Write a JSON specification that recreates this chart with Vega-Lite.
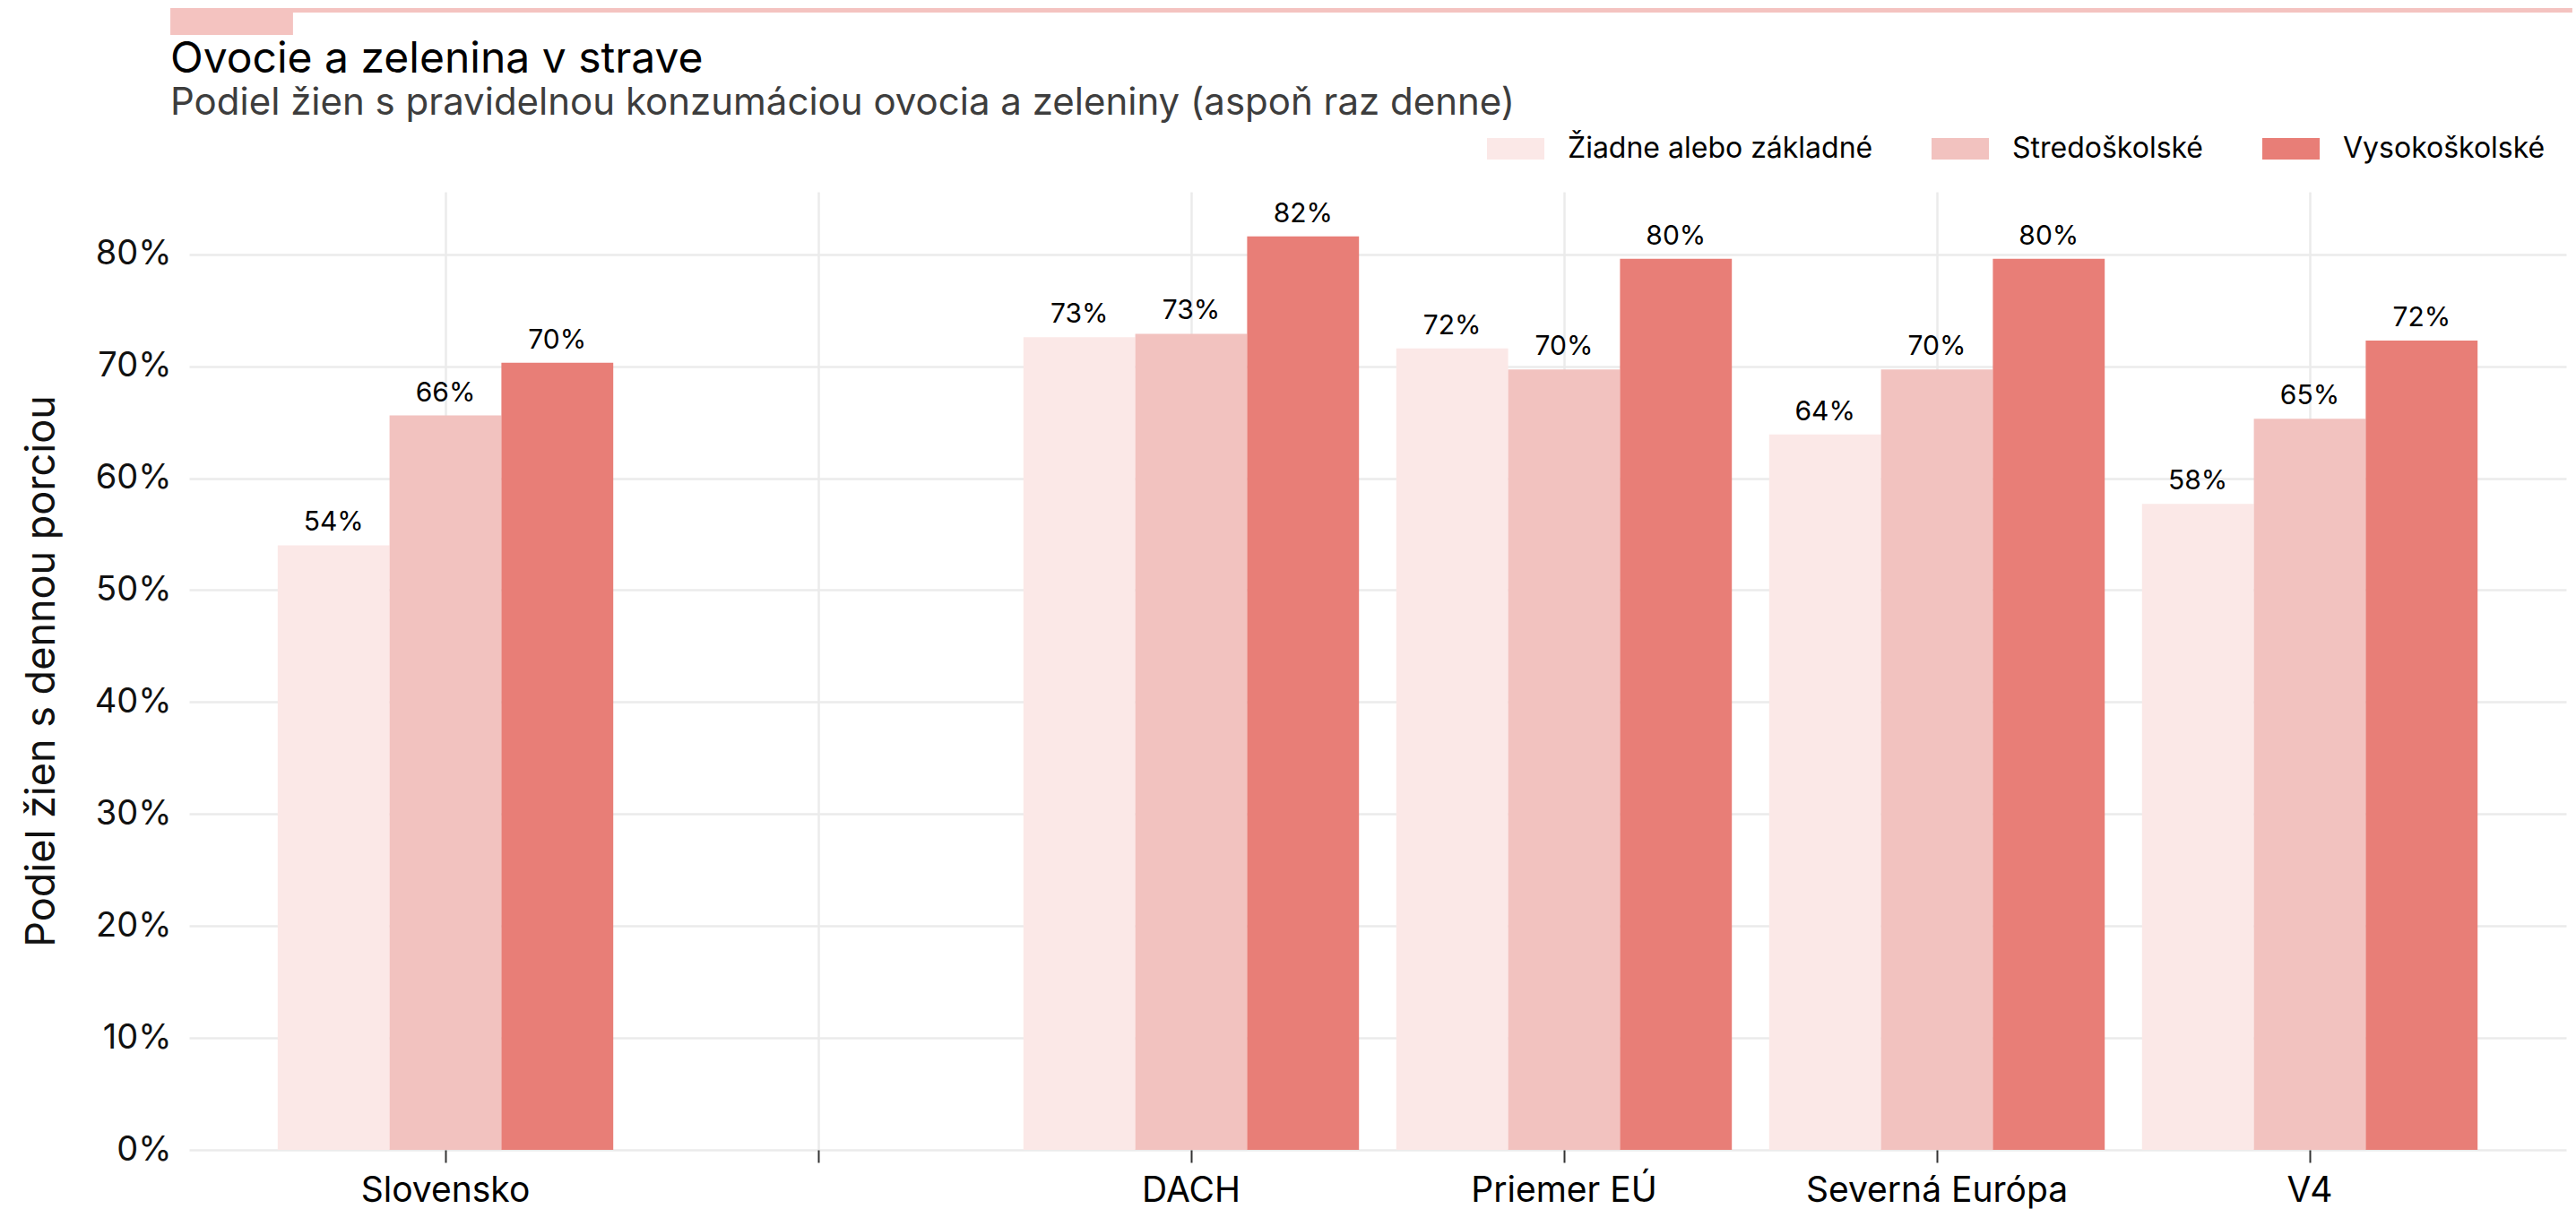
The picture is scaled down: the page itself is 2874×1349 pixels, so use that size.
{
  "$schema": "https://vega.github.io/schema/vega-lite/v6.json",
  "width": 2652,
  "height": 1069,
  "autosize": {"type": "none"},
  "padding": {"left": 211, "top": 214, "right": 11, "bottom": 66},
  "background": "white",
  "config": {
    "font": "Inter",
    "view": {"stroke": null},
    "axis": {"domain": false, "gridColor": "#ebebeb", "gridWidth": 2.5, "labelColor": "#111111", "titleColor": "#111111", "labelLimit": 0}
  },
  "title": {
    "text": "Ovocie a zelenina v strave",
    "subtitle": "Podiel žien s pravidelnou konzumáciou ovocia a zeleniny (aspoň raz denne)",
    "anchor": "start",
    "frame": "group",
    "dx": -21,
    "fontSize": 48,
    "fontWeight": "normal",
    "color": "#000000",
    "subtitleFontSize": 42,
    "subtitleColor": "#3d3d3d",
    "subtitlePadding": 4,
    "offset": -127
  },
  "layer": [
    {
      "description": "accent rule across the top",
      "data": {"values": [{}]},
      "mark": {"type": "rect", "color": "#f4c3c0"},
      "encoding": {
        "x": {"datum": -0.0079, "type": "quantitative", "scale": {"domain": [0, 1]}, "axis": null},
        "x2": {"datum": 1.0026},
        "y": {"datum": 1.1918, "type": "quantitative", "scale": {"domain": [0, 1]}, "axis": null},
        "y2": {"datum": 1.1871}
      }
    },
    {
      "description": "accent tab under the rule",
      "data": {"values": [{}]},
      "mark": {"type": "rect", "color": "#f4c3c0"},
      "encoding": {
        "x": {"datum": -0.0079, "type": "quantitative", "scale": {"domain": [0, 1]}, "axis": null},
        "x2": {"datum": 0.0437},
        "y": {"datum": 1.1871, "type": "quantitative", "scale": {"domain": [0, 1]}, "axis": null},
        "y2": {"datum": 1.1637}
      }
    },
    {
      "data": {
        "values": [
          {"region": "Slovensko", "vzdelanie": "Žiadne alebo základné", "podiel": 0.540},
          {"region": "Slovensko", "vzdelanie": "Stredoškolské", "podiel": 0.656},
          {"region": "Slovensko", "vzdelanie": "Vysokoškolské", "podiel": 0.703},
          {"region": "DACH", "vzdelanie": "Žiadne alebo základné", "podiel": 0.726},
          {"region": "DACH", "vzdelanie": "Stredoškolské", "podiel": 0.729},
          {"region": "DACH", "vzdelanie": "Vysokoškolské", "podiel": 0.816},
          {"region": "Priemer EÚ", "vzdelanie": "Žiadne alebo základné", "podiel": 0.716},
          {"region": "Priemer EÚ", "vzdelanie": "Stredoškolské", "podiel": 0.697},
          {"region": "Priemer EÚ", "vzdelanie": "Vysokoškolské", "podiel": 0.796},
          {"region": "Severná Európa", "vzdelanie": "Žiadne alebo základné", "podiel": 0.639},
          {"region": "Severná Európa", "vzdelanie": "Stredoškolské", "podiel": 0.697},
          {"region": "Severná Európa", "vzdelanie": "Vysokoškolské", "podiel": 0.796},
          {"region": "V4", "vzdelanie": "Žiadne alebo základné", "podiel": 0.577},
          {"region": "V4", "vzdelanie": "Stredoškolské", "podiel": 0.653},
          {"region": "V4", "vzdelanie": "Vysokoškolské", "podiel": 0.723}
        ]
      },
      "encoding": {
        "x": {
          "field": "region",
          "type": "nominal",
          "scale": {
            "domain": ["Slovensko", " ", "DACH", "Priemer EÚ", "Severná Európa", "V4"],
            "paddingInner": 0.1,
            "paddingOuter": 0.2375
          },
          "axis": {
            "title": null,
            "labelAngle": 0,
            "labelFontSize": 39,
            "labelColor": "#000000",
            "labelLimit": 0,
            "tickSize": 14,
            "tickColor": "#333333",
            "tickWidth": 2,
            "labelPadding": 12,
            "grid": true,
            "bandPosition": 0.5
          }
        },
        "xOffset": {
          "field": "vzdelanie",
          "type": "nominal",
          "scale": {
            "domain": ["Žiadne alebo základné", "Stredoškolské", "Vysokoškolské"],
            "paddingInner": 0,
            "paddingOuter": 0
          }
        },
        "y": {
          "field": "podiel",
          "type": "quantitative",
          "scale": {"domain": [0, 0.8558], "nice": false, "zero": true},
          "axis": {
            "title": "Podiel žien s dennou porciou",
            "titleFontSize": 45,
            "titleFontWeight": "normal",
            "titlePadding": 36,
            "format": ".0%",
            "values": [0, 0.1, 0.2, 0.3, 0.4, 0.5, 0.6, 0.7, 0.8],
            "labelFontSize": 38,
            "labelColor": "#111111",
            "ticks": false,
            "tickSize": 0,
            "labelPadding": 20,
            "grid": true
          }
        }
      },
      "layer": [
        {
          "mark": {"type": "bar"},
          "encoding": {
            "color": {
              "field": "vzdelanie",
              "type": "nominal",
              "scale": {
                "domain": ["Žiadne alebo základné", "Stredoškolské", "Vysokoškolské"],
                "range": ["#fbe8e7", "#f2c2bf", "#e87e77"]
              },
              "legend": {
                "title": null,
                "orient": "none",
                "legendX": 1448,
                "legendY": -80,
                "direction": "horizontal",
                "symbolType": "M-1,-0.375H1V0.375H-1Z",
                "symbolSize": 4096,
                "symbolStrokeWidth": 0,
                "symbolOpacity": 1,
                "labelFontSize": 32,
                "labelColor": "#000000",
                "labelLimit": 0,
                "labelOffset": 26,
                "columnPadding": 65,
                "padding": 0
              }
            }
          }
        },
        {
          "mark": {"type": "text", "dy": -16, "baseline": "alphabetic", "fontSize": 30, "color": "#000000"},
          "encoding": {
            "text": {"field": "podiel", "type": "quantitative", "format": ".0%"}
          }
        }
      ]
    }
  ],
  "resolve": {"scale": {"x": "independent", "y": "independent"}}
}
